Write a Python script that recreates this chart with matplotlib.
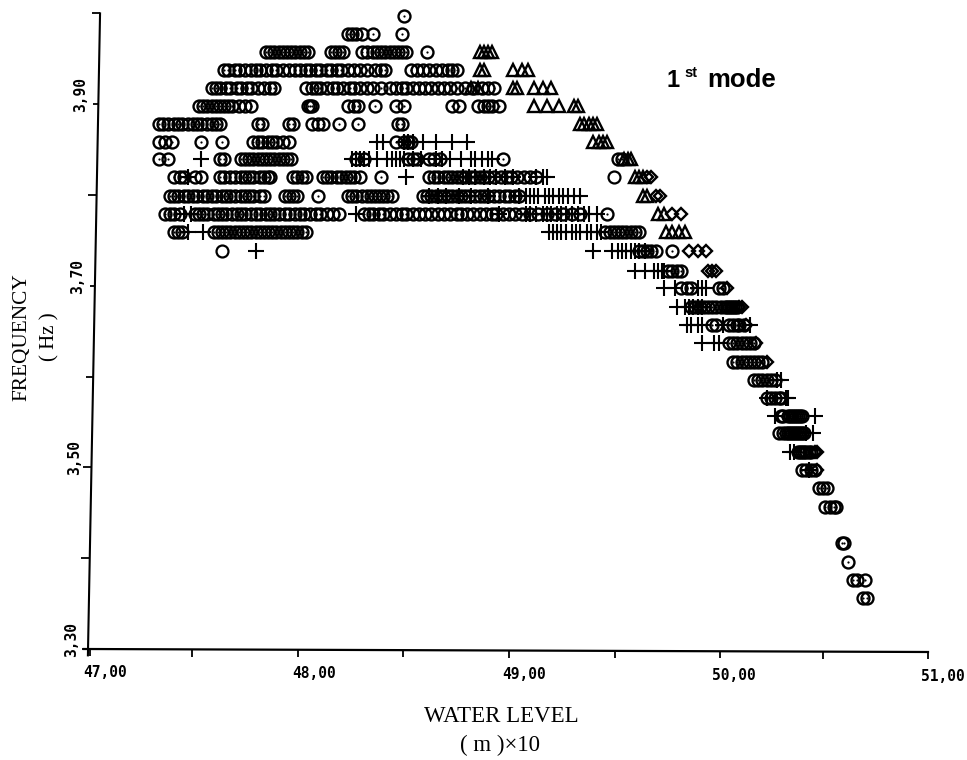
#!/usr/bin/env python
# -*- coding: utf-8 -*-

import matplotlib
matplotlib.use('Agg')
import matplotlib.pyplot as plt
from matplotlib.transforms import ScaledTranslation

x_ticks = [47.0, 47.5, 48.0, 48.5, 49.0, 49.5, 50.0, 50.5, 51.0]
x_labels = ['47,00', '', '48,00', '', '49,00', '', '50,00', '', '51,00']
y_ticks = [3.3, 3.4, 3.5, 3.6, 3.7, 3.8, 3.9, 4.0]
y_labels = ['3,30', '', '3,50', '', '3,70', '', '3,90', '']

# one entry per row of the plot, every marker list below lines up with this
freq = [3.997, 3.977, 3.957, 3.938, 3.918, 3.898, 3.878, 3.858, 3.840, 3.820,
        3.799, 3.779, 3.759, 3.738, 3.716, 3.698, 3.677, 3.657, 3.637, 3.616,
        3.596, 3.576, 3.557, 3.538, 3.517, 3.497, 3.477, 3.456, 3.417, 3.396,
        3.376, 3.356]

circles = [
  [48.50],
  [48.23, 48.25, 48.27, 48.30, 48.35, 48.49],
  [47.84, 47.86, 47.88, 47.90, 47.92, 47.94, 47.96, 47.98, 48.00, 48.02, 48.04,
   48.15, 48.17, 48.19, 48.21, 48.30, 48.32, 48.35, 48.37, 48.39, 48.41, 48.43,
   48.45, 48.47, 48.49, 48.51, 48.61],
  [47.64, 47.66, 47.69, 47.71, 47.74, 47.77, 47.79, 47.81, 47.84, 47.87, 47.89,
   47.92, 47.95, 47.98, 48.00, 48.03, 48.05, 48.08, 48.10, 48.13, 48.15, 48.18,
   48.20, 48.23, 48.26, 48.29, 48.32, 48.36, 48.39, 48.41, 48.53, 48.56, 48.59,
   48.62, 48.65, 48.68, 48.71, 48.73, 48.75],
  [47.58, 47.60, 47.62, 47.65, 47.67, 47.70, 47.72, 47.75, 47.77, 47.80, 47.83,
   47.86, 47.88, 48.03, 48.06, 48.08, 48.10, 48.13, 48.16, 48.18, 48.21, 48.24,
   48.26, 48.29, 48.32, 48.35, 48.39, 48.43, 48.46, 48.49, 48.51, 48.54, 48.57,
   48.60, 48.63, 48.66, 48.69, 48.72, 48.75, 48.79, 48.83, 48.87, 48.90, 48.93],
  [47.52, 47.54, 47.56, 47.58, 47.60, 47.62, 47.64, 47.66, 47.68, 47.71, 47.74,
   47.77, 48.04, 48.05, 48.06, 48.23, 48.26, 48.28, 48.36, 48.46, 48.50, 48.73,
   48.76, 48.85, 48.88, 48.90, 48.92, 48.95],
  [47.33, 47.35, 47.37, 47.40, 47.42, 47.44, 47.47, 47.49, 47.51, 47.53, 47.56,
   47.58, 47.60, 47.62, 47.80, 47.82, 47.95, 47.97, 48.06, 48.09, 48.11, 48.19,
   48.28, 48.47, 48.49],
  [47.33, 47.36, 47.39, 47.53, 47.63, 47.78, 47.80, 47.82, 47.85, 47.87, 47.89,
   47.92, 47.95, 48.46, 48.50, 48.52, 48.53],
  [47.33, 47.37, 47.62, 47.64, 47.72, 47.74, 47.76, 47.78, 47.80, 47.82, 47.84,
   47.86, 47.88, 47.90, 47.92, 47.94, 47.96, 48.27, 48.31, 48.52, 48.54, 48.56,
   48.62, 48.64, 48.67, 48.97, 49.52, 49.54],
  [47.40, 47.43, 47.45, 47.50, 47.53, 47.62, 47.64, 47.67, 47.69, 47.72, 47.74,
   47.76, 47.78, 47.81, 47.83, 47.85, 47.86, 47.97, 47.99, 48.01, 48.03, 48.11,
   48.13, 48.15, 48.18, 48.20, 48.22, 48.24, 48.26, 48.29, 48.39, 48.62, 48.64,
   48.66, 48.69, 48.71, 48.73, 48.75, 48.77, 48.79, 48.82, 48.84, 48.86, 48.88,
   48.90, 48.93, 48.96, 48.99, 49.01, 49.04, 49.07, 49.10, 49.13],
  [47.38, 47.40, 47.42, 47.45, 47.47, 47.49, 47.51, 47.54, 47.56, 47.58, 47.60,
   47.63, 47.65, 47.67, 47.69, 47.72, 47.74, 47.76, 47.78, 47.81, 47.83, 47.93,
   47.95, 47.97, 47.99, 48.09, 48.23, 48.25, 48.27, 48.30, 48.32, 48.34, 48.36,
   48.38, 48.40, 48.42, 48.44, 48.59, 48.61, 48.63, 48.65, 48.67, 48.69, 48.71,
   48.73, 48.75, 48.77, 48.79, 48.81, 48.84, 48.86, 48.88, 48.90, 48.93, 48.95,
   48.98, 49.00, 49.03, 49.05],
  [47.36, 47.38, 47.40, 47.43, 47.50, 47.52, 47.54, 47.56, 47.59, 47.61, 47.63,
   47.65, 47.68, 47.70, 47.72, 47.74, 47.77, 47.79, 47.81, 47.84, 47.86, 47.88,
   47.90, 47.93, 47.95, 47.98, 48.00, 48.02, 48.05, 48.08, 48.10, 48.13, 48.16,
   48.19, 48.31, 48.33, 48.35, 48.38, 48.40, 48.43, 48.46, 48.49, 48.51, 48.54,
   48.57, 48.60, 48.63, 48.66, 48.69, 48.72, 48.75, 48.77, 48.80, 48.83, 48.86,
   48.89, 48.92, 48.94, 48.97, 49.00, 49.03, 49.06, 49.10, 49.14, 49.18, 49.22,
   49.26, 49.30, 49.34, 49.47],
  [47.40, 47.42, 47.44, 47.59, 47.61, 47.63, 47.65, 47.67, 47.69, 47.71, 47.73,
   47.75, 47.77, 47.79, 47.81, 47.83, 47.85, 47.87, 47.89, 47.91, 47.93, 47.95,
   47.97, 47.99, 48.01, 48.03, 49.46, 49.48, 49.50, 49.52, 49.54, 49.56, 49.58,
   49.60, 49.62],
  [49.62, 49.64, 49.66, 49.68, 49.70, 49.78],
  [49.76, 49.78, 49.80, 49.82],
  [49.82, 49.85, 49.87, 50.00, 50.02],
  [49.87, 49.89, 49.91, 49.93, 49.95, 49.97, 49.99, 50.01, 50.03, 50.04, 50.05,
   50.06, 50.07, 50.08, 50.09],
  [49.97, 49.99, 50.05, 50.07, 50.09, 50.10, 50.12],
  [50.05, 50.07, 50.09, 50.11, 50.13, 50.15, 50.17],
  [50.07, 50.09, 50.11, 50.13, 50.15, 50.17, 50.19, 50.21],
  [50.17, 50.19, 50.21, 50.23, 50.25, 50.27],
  [50.23, 50.25, 50.27, 50.29, 50.30],
  [50.30, 50.31, 50.33, 50.34, 50.35, 50.36, 50.37, 50.38, 50.39, 50.40],
  [50.29, 50.31, 50.32, 50.33, 50.34, 50.35, 50.36, 50.37, 50.38, 50.39, 50.40, 50.41],
  [50.38, 50.39, 50.40, 50.41, 50.42, 50.43, 50.44],
  [50.40, 50.42, 50.44, 50.46],
  [50.48, 50.50, 50.52],
  [50.51, 50.53, 50.55, 50.56],
  [50.59, 50.60],
  [50.62],
  [50.64, 50.66, 50.70],
  [50.69, 50.71],
]

pluses = [
  [], [], [], [], [], [], [],
  [48.37, 48.40, 48.50, 48.52, 48.54, 48.59, 48.65, 48.73, 48.80],
  [47.53, 48.25, 48.27, 48.29, 48.31, 48.33, 48.37, 48.42, 48.44, 48.46, 48.48,
   48.50, 48.54, 48.58, 48.65, 48.68, 48.72, 48.77, 48.82, 48.84, 48.87, 48.90, 48.92],
  [47.47, 48.51, 48.78, 48.81, 48.84, 48.88, 48.91, 48.94, 48.98, 49.02, 49.13,
   49.16, 49.18],
  [48.62, 48.66, 48.70, 48.76, 48.82, 48.90, 49.05, 49.08, 49.10, 49.12, 49.14,
   49.17, 49.19, 49.21, 49.24, 49.26, 49.28, 49.31, 49.34],
  [47.45, 47.48, 48.27, 48.95, 49.08, 49.10, 49.13, 49.16, 49.18, 49.20, 49.23,
   49.25, 49.27, 49.30, 49.33, 49.36, 49.38, 49.42],
  [47.47, 47.54, 49.19, 49.21, 49.23, 49.25, 49.27, 49.30, 49.32, 49.34, 49.37,
   49.39, 49.42, 49.44],
  [47.79, 49.40, 49.49, 49.52, 49.54, 49.56, 49.58, 49.60, 49.62, 49.65],
  [49.60, 49.65, 49.69, 49.71, 49.73, 49.74],
  [49.74, 49.79, 49.90, 49.92, 49.94],
  [49.80, 49.84, 49.86, 49.88, 49.90, 49.92],
  [49.85, 49.87, 49.90, 49.92, 50.02, 50.15],
  [49.92, 49.98, 50.00],
  [],
  [50.28, 50.30],
  [50.23, 50.32, 50.33],
  [50.27, 50.46],
  [50.42, 50.45],
  [50.34, 50.36],
  [50.43],
  [], [], [], [], [], [],
]

triangles = [
  [], [],
  [48.86, 48.88, 48.90, 48.92],
  [48.86, 48.88, 49.02, 49.06, 49.09],
  [48.82, 48.85, 49.02, 49.04, 49.12, 49.16, 49.20],
  [49.12, 49.18, 49.24, 49.31, 49.33],
  [49.34, 49.36, 49.38, 49.40, 49.42],
  [49.40, 49.43, 49.45, 49.47],
  [49.55, 49.57, 49.58],
  [49.60, 49.62, 49.64],
  [49.64, 49.66],
  [49.71, 49.74],
  [49.75, 49.78, 49.81, 49.84],
  [], [], [], [], [], [], [], [], [], [], [], [], [], [], [], [], [], [], [],
]

diamonds = [
  [], [], [], [], [], [], [], [], [],
  [49.66, 49.68],
  [49.70, 49.72],
  [49.78, 49.82],
  [],
  [49.86, 49.90, 49.94],
  [49.95, 49.97, 49.99],
  [50.04],
  [50.10, 50.11],
  [50.13],
  [50.18],
  [50.23],
  [], [], [], [],
  [50.46, 50.47],
  [50.47],
  [], [], [], [], [], [],
]

# the two circles with no dot in them
open_level = [47.63, 49.50]
open_freq = [3.738, 3.820]


def flat(rows):
  xs = []
  ys = []
  for f, row in zip(freq, rows):
    for v in row:
      xs.append(v)
      ys.append(f)
  return xs, ys


def px_shift(fig, dx, dy):
  # screen shift in pixels, y going down like in the scan
  return ScaledTranslation(dx / fig.dpi, -dy / fig.dpi, fig.dpi_scale_trans)


def main():
  fig = plt.figure(figsize=(9.67, 7.60), dpi=100)
  ax = fig.add_axes([90 / 967, (760 - 649) / 760, 838 / 967, 635.6 / 760])
  ax.set_xlim(47, 51)
  ax.set_ylim(3.3, 4.0)
  for s in ax.spines.values():
    s.set_visible(False)

  # the scanned axes lean a little, so they are drawn as lines
  ax.plot([46.97, 51.0], [3.3, 3.2967], color='black', lw=1.6, clip_on=False)
  ax.plot([46.99, 47.048], [3.293, 4.0], color='black', lw=1.5, clip_on=False)

  x, y = flat(circles)
  ax.plot(x, y, 'o', ms=8.6, mfc='none', mec='black', mew=1.7, clip_on=False)
  ax.plot(x, y, 'o', ms=1.6, mfc='black', mec='black', mew=0, clip_on=False)
  ax.plot(open_level, open_freq, 'o', ms=8.6, mfc='white', mec='black', mew=1.6)
  x, y = flat(pluses)
  ax.plot(x, y, '+', ms=11, mec='black', mew=1.5)
  x, y = flat(triangles)
  ax.plot(x, y, '^', ms=8.5, mfc='none', mec='black', mew=1.7)
  x, y = flat(diamonds)
  ax.plot(x, y, 'D', ms=6.5, mfc='none', mec='black', mew=1.7)

  mono = ['DejaVu Sans Mono']
  ax.set_xticks(x_ticks)
  ax.set_xticklabels(x_labels, family=mono, weight='bold', fontsize=10.5)
  ax.set_yticks(y_ticks)
  ax.set_yticklabels(y_labels, family=mono, weight='bold', fontsize=10.5,
                     rotation=90, ha='center', va='center')
  ax.tick_params(axis='both', length=0, width=1.3, pad=0)

  # tick mark shift and label centre offset, in pixels from the straight axes
  x_mark_dx = [0, -3, -2, -1, 0, 1, 1, 0, 0]
  x_mark_dy = [0, 0.5, 1, 1, 1.5, 2, 2, 2.5, 3]
  for i, t in enumerate(ax.xaxis.get_major_ticks()):
    t.tick1line.set_markersize(5)
    t.tick1line.set_transform(t.tick1line.get_transform() + px_shift(fig, x_mark_dx[i], x_mark_dy[i]))
    t.label1.set_transform(t.label1.get_transform() + px_shift(fig, 15, 16 + i * 0.45))

  y_mark_dx = [-2, 0, 2, 4, 5, 7, 8, 10]
  y_mark_len = [4.5, 6.5, 6.5, 6, 3.5, 6.5, 3.5, 6]
  y_label_dx = [-18, 0, -15, 0, -12, 0, -9, 0]
  for i, t in enumerate(ax.yaxis.get_major_ticks()):
    t.tick1line.set_markersize(y_mark_len[i])
    t.tick1line.set_transform(t.tick1line.get_transform() + px_shift(fig, y_mark_dx[i], 0))
    t.label1.set_transform(t.label1.get_transform() + px_shift(fig, y_label_dx[i], -9.5))

  serif = ['Liberation Serif']
  fig.text(22 / 967, 1 - 337 / 760, 'FREQUENCY', family=serif, fontsize=15.3,
           rotation=90, ha='center', va='center')
  fig.text(50 / 967, 1 - 337 / 760, '( Hz )', family=serif, fontsize=15,
           rotation=90, ha='center', va='center')
  fig.text(501 / 967, 1 - 717 / 760, 'WATER LEVEL', family=serif, fontsize=16.5,
           ha='center', va='center')
  fig.text(500 / 967, 1 - 745 / 760, '( m )×10', family=serif, fontsize=16.5,
           ha='center', va='center')

  sans = ['Liberation Sans']
  fig.text(667 / 967, 1 - 87 / 760, '1', family=sans, weight='bold', fontsize=17)
  fig.text(684 / 967, 1 - 77 / 760, 'st', family=sans, weight='bold', fontsize=10.5)
  fig.text(707 / 967, 1 - 87 / 760, 'mode', family=sans, weight='bold', fontsize=18.5)

  fig.savefig('out.png', dpi=100)


if __name__ == "__main__":
  main()
